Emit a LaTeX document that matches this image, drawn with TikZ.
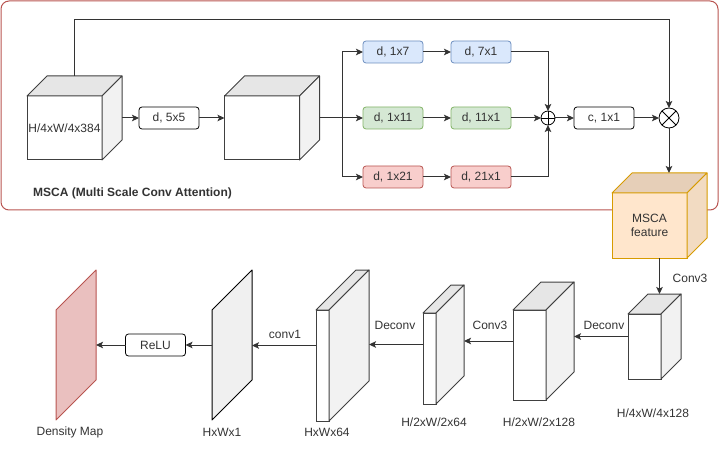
\documentclass[tikz,border=0pt]{standalone}
\usepackage{fontspec}
\setmainfont{Liberation Sans}
\usetikzlibrary{arrows.meta,calc}
\definecolor{linec}{HTML}{333333}
\definecolor{txt}{HTML}{333333}
\definecolor{cubeedge}{HTML}{404040}
\definecolor{redc}{HTML}{B85450}
\definecolor{redf}{HTML}{F8CECC}
\definecolor{bluec}{HTML}{6C8EBF}
\definecolor{bluef}{HTML}{DAE8FC}
\definecolor{greenc}{HTML}{82B366}
\definecolor{greenf}{HTML}{D5E8D4}
\definecolor{orc}{HTML}{D79B00}
\definecolor{orf}{HTML}{FFE6CC}
\definecolor{ortop}{HTML}{E6CFB8}
\definecolor{orside}{HTML}{F2DBC2}
\definecolor{gtop}{HTML}{E6E6E6}
\definecolor{gside}{HTML}{F2F2F2}
\definecolor{planef}{HTML}{F0F0F0}
\definecolor{densf}{HTML}{EAC0BF}
\newcommand{\mkcube}[7]{%
  \node[#6front, minimum width=#3, minimum height=#4] (#1) at (#2) {#7};
  \filldraw[#6top] (#1.north west) -- ++(#5,-#5) -- ++(#3,0) -- (#1.north east) -- cycle;
  \filldraw[#6side] (#1.north east) -- ++(#5,-#5) -- ++(0,#4) -- (#1.south east) -- cycle;
  \coordinate (#1-r) at ($(#1.east)+(#5,-#5/2)$);
  \coordinate (#1-l) at ($(#1.west)+(0,-#5/2)$);
  \coordinate (#1-tb) at ($(#1.north)+(#5/2,-#5)$);
  \coordinate (#1-bb) at ($(#1.south)+(#5/2,0)$);
}
\tikzset{
  gcfront/.style={draw=cubeedge, fill=white, line width=1pt, inner sep=0pt, outer sep=0pt, align=center, text=txt},
  gctop/.style={draw=cubeedge, fill=gtop, line width=1pt, line join=round},
  gcside/.style={draw=cubeedge, fill=gside, line width=1pt, line join=round},
  ocfront/.style={draw=orc, fill=orf, line width=1pt, inner sep=0pt, outer sep=0pt, align=center, text=txt},
  octop/.style={draw=orc, fill=ortop, line width=1pt, line join=round},
  ocside/.style={draw=orc, fill=orside, line width=1pt, line join=round},
  opbox/.style={draw=#1, rounded corners=3pt, minimum width=60pt, minimum height=22pt, inner sep=0pt, outer sep=0pt, line width=0.8pt, text=txt},
  arr/.style={draw=linec, line width=1pt, -{Stealth[length=7pt,width=6.5pt,inset=1.5pt]}},
  ln/.style={draw=linec, line width=1pt},
  lbl/.style={text=txt, inner sep=0pt},
  planebox/.style={minimum width=40pt, minimum height=150pt, inner sep=0pt, outer sep=0pt},
}
\begin{document}
\begin{tikzpicture}[x=1pt,y=-1pt,font=\fontsize{12}{14}\selectfont]
\useasboundingbox (0,0) rectangle (720,449);
% outer MSCA frame
\node[draw=redc, rounded corners=8pt, line width=1pt, minimum width=717pt, minimum height=209pt, inner sep=0pt, outer sep=0pt] (frame) at (359.5,105.5) {};
\node[anchor=west, font=\fontsize{12}{14}\selectfont\bfseries, text=txt, inner sep=0pt] (title) at (33,193) {MSCA (Multi Scale Conv Attention)};

% cubes
\mkcube{c1}{64.5,128}{75}{64}{20}{gc}{H/4xW/4x384}
\mkcube{c2}{262,128}{75}{64}{20}{gc}{}
\mkcube{msca}{649.5,225.5}{75}{65}{20}{oc}{MSCA\\feature}
\mkcube{ca}{644.5,346.5}{33}{65}{20}{gc}{}
\mkcube{cb}{529.5,355}{33}{90}{28}{gc}{}
\mkcube{cc}{429.5,358.5}{13}{91}{28}{gc}{}
\mkcube{cd}{322.5,365.5}{13}{111}{40}{gc}{}

% op boxes
\node[opbox=black, fill=white] (d5) at (169,118) {d, 5x5};
\node[opbox=bluec, fill=bluef] (b1) at (393,52) {d, 1x7};
\node[opbox=bluec, fill=bluef] (b2) at (481,52) {d, 7x1};
\node[opbox=greenc, fill=greenf] (g1) at (393,118) {d, 1x11};
\node[opbox=greenc, fill=greenf] (g2) at (481,118) {d, 11x1};
\node[opbox=redc, fill=redf] (r1) at (393,177) {d, 1x21};
\node[opbox=redc, fill=redf] (r2) at (481,177) {d, 21x1};
\node[opbox=black, fill=white] (cx) at (604,118) {c, 1x1};
\node[opbox=black, fill=white] (relu) at (155.5,345) {ReLU};

\node[circle, draw=black, line width=0.8pt, fill=white, minimum size=14pt, inner sep=0pt, outer sep=0pt,
  path picture={\draw[black, line width=0.8pt] (path picture bounding box.north) -- (path picture bounding box.south)
    (path picture bounding box.west) -- (path picture bounding box.east);}] (plus) at (548,118) {};
\node[circle, draw=black, line width=0.8pt, fill=white, minimum size=20pt, inner sep=0pt, outer sep=0pt,
  path picture={\draw[black, line width=0.8pt] (path picture bounding box.north west) -- (path picture bounding box.south east)
    (path picture bounding box.south west) -- (path picture bounding box.north east);}] (otimes) at (669,118) {};

% planes
\node[planebox] (p1) at (232,345) {};
\filldraw[draw=black, fill=planef, line width=1pt, line join=round] (p1.south west) -- ++(0,-110) -- (p1.north east) -- ++(0,110) -- cycle;
\node[planebox] (dm) at (76,345) {};
\filldraw[draw=redc, fill=densf, line width=1pt, line join=round] (dm.south west) -- ++(0,-110) -- (dm.north east) -- ++(0,110) -- cycle;

% labels
\node[lbl] (ldm) at (70,432) {Density Map};
\node[lbl] (lp1) at (222,432) {HxWx1};
\node[lbl] (lcd) at (327,432) {HxWx64};
\node[lbl] (lcc) at (434,422) {H/2xW/2x64};
\node[lbl] (lcb) at (539,422) {H/2xW/2x128};
\node[lbl] (lca) at (653,413) {H/4xW/4x128};

% top connectors
\coordinate (topy) at (0,20);
\coordinate (br) at (342,118);
\draw[arr] (c1-r) -- (d5.west);
\draw[arr] (d5.east) -- (d5.east -| c2.west);
\draw[ln] (c2-r) -- (br);
\draw[arr] (br) |- (b1.west);
\draw[arr] (br) -- (g1.west);
\draw[arr] (br) |- (r1.west);
\draw[arr] (b1) -- (b2);
\draw[arr] (g1) -- (g2);
\draw[arr] (r1) -- (r2);
\draw[arr] (b2.east) -| (plus.north);
\draw[arr] (g2.east) -- (plus.west);
\draw[arr] (r2.east) -| (plus.south);
\draw[arr] (plus.east) -- (cx.west);
\draw[arr] (cx.east) -- (otimes.west);
\draw[arr] (c1-tb) -- (c1-tb |- topy) -| (otimes.north);
\draw[arr] (otimes.south) -- (otimes.south |- msca-tb);

% decoder connectors
\draw[arr] (msca-bb) -- (msca-bb |- ca-tb);
\node[lbl] (lconv3a) at (690,278) {Conv3};
\draw[arr] (ca-l) -- (ca-l -| cb-r);
\node[lbl] (ldeca) at (604,325) {Deconv};
\draw[arr] (cb-l) -- (cb-l -| cc-r);
\node[lbl] (lconv3b) at (490,325) {Conv3};
\draw[arr] (cc-l) -- (cc-l -| cd-r);
\node[lbl] (ldecb) at (395,325) {Deconv};
\draw[arr] (cd-l) -- (cd-l -| p1.east);
\node[lbl] (lconv1) at (285,334) {conv1};
\draw[arr] (p1.west) -- (relu.east);
\draw[arr] (relu.west) -- (dm.east);
\end{tikzpicture}
\end{document}
